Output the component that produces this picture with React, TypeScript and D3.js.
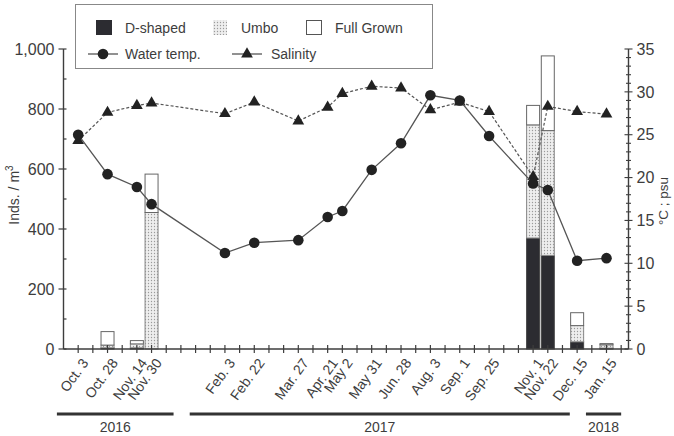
import React from 'react';
import * as d3 from 'd3';

// sampling dates and their slot on the x axis
const dates = ['Oct. 3', 'Oct. 28', 'Nov. 14', 'Nov. 30', 'Feb. 3', 'Feb. 22', 'Mar. 27', 'Apr. 21', 'May 2',
  'May 31', 'Jun. 28', 'Aug. 3', 'Sep. 1', 'Sep. 25', 'Nov. 1', 'Nov. 22', 'Dec. 15', 'Jan. 15'];
const slots = [1, 3, 5, 6, 11, 13, 16, 18, 19, 21, 23, 25, 27, 29, 32, 33, 35, 37];

// larvae density, inds / m3
const dShaped = [0, 4, 4, 0, 0, 0, 0, 0, 0, 0, 0, 0, 0, 0, 370, 312, 24, 3];
const umbo = [0, 9, 13, 455, 0, 0, 0, 0, 0, 0, 0, 0, 0, 0, 377, 416, 54, 11];
const fullGrown = [0, 45, 11, 128, 0, 0, 0, 0, 0, 0, 0, 0, 0, 0, 65, 249, 43, 4];

// environment
const waterTemp = [25.0, 20.4, 18.9, 16.9, 11.2, 12.4, 12.7, 15.4, 16.1, 20.9, 24.0, 29.6, 29.0, 24.85, 19.3, 18.55, 10.3, 10.6];
const salinity = [24.3, 27.6, 28.4, 28.7, 27.45, 28.8, 26.6, 28.2, 29.8, 30.65, 30.45, 27.9, 28.8, 27.7, 20.1, 28.3, 27.7, 27.4];

const leftTicks = [0, 200, 400, 600, 800, 1000];
const rightTicks = [0, 5, 10, 15, 20, 25, 30, 35];

// year brackets under the axis, in slot units
const years = ['2016', '2017', '2018'];
const yearFrom = [-0.45, 8.6, 35.6];
const yearTo = [7.5, 34.5, 38.0];

const W = 674;
const H = 436;
const ink = '#3d3d3d';
const font = '"Liberation Sans", Arial, sans-serif';

export default function App() {
  const x = d3.scaleLinear().domain([0, 38.5]).range([63.5, 628.5]);
  const yL = d3.scaleLinear().domain([0, 1000]).range([349, 49]);
  const yR = d3.scaleLinear().domain([0, 35]).range([349, 49]);

  const rows = dates.map((d, i) => ({ date: d, slot: slots[i], D: dShaped[i], U: umbo[i], F: fullGrown[i] }));
  const stacked = d3.stack<any>().keys(['D', 'U', 'F'])(rows);
  const fills: Record<string, string> = { D: '#2c2c31', U: 'url(#dots)', F: '#fff' };
  const strokes: Record<string, string> = { D: '#444', U: '#888', F: '#666' };
  const bw = 13;

  const tempLine = d3.line<number>().x((d, i) => x(slots[i])).y(d => yR(d));
  const triangle = d3.symbol().type(d3.symbolTriangle).size(60)();

  const x0 = x(0);
  const x1 = x(38.5);
  const y0 = yL(0);

  return (
    <svg width={W} height={H} style={{ position: 'fixed', left: 0, top: 0, background: '#fff' }} fontFamily={font}>
      <defs>
        <pattern id="dots" width="3" height="3" patternUnits="userSpaceOnUse">
          <rect width="3" height="3" fill="#eeeeee" />
          <circle cx="1.5" cy="1.5" r="0.65" fill="#9a9a9a" />
        </pattern>
      </defs>

      {/* bars */}
      {stacked.map(layer => (
        <g key={layer.key}>
          {layer.map((s, i) => {
            const h = yL(s[0]) - yL(s[1]);
            if (h <= 0) return null;
            return (
              <rect key={i} x={x(slots[i]) - bw / 2} y={yL(s[1])} width={bw} height={h}
                fill={fills[layer.key]} stroke={strokes[layer.key]} strokeWidth={1} />
            );
          })}
        </g>
      ))}

      {/* left axis */}
      <line x1={x0} x2={x0} y1={yL(1000)} y2={y0} stroke={ink} strokeWidth={1.4} />
      {d3.range(0, 1001, 100).map(v => (
        <line key={v} x1={v % 200 === 0 ? x0 - 5 : x0} x2={x0 + 3} y1={yL(v)} y2={yL(v)} stroke={ink} strokeWidth={1.2} />
      ))}
      {leftTicks.map(v => (
        <text key={v} x={x0 - 9} y={yL(v)} dy="0.36em" textAnchor="end" fontSize={16} fill={ink}>
          {d3.format(',')(v)}
        </text>
      ))}
      <text transform={`translate(19,${(yL(0) + yL(1000)) / 2 - 4}) rotate(-90)`} textAnchor="middle" fontSize={14} fill={ink}>
        Inds. / m<tspan dy="-6" fontSize={10}>3</tspan>
      </text>

      {/* right axis */}
      <line x1={x1} x2={x1} y1={yR(35)} y2={y0} stroke={ink} strokeWidth={1.4} />
      {d3.range(0, 36, 1).map(v => (
        <line key={v} x1={x1 - (v % 5 === 0 ? 4 : 2.5)} x2={x1 + (v % 5 === 0 ? 4 : 2.5)} y1={yR(v)} y2={yR(v)}
          stroke={ink} strokeWidth={1.1} />
      ))}
      {rightTicks.map(v => (
        <text key={v} x={x1 + 8} y={yR(v)} dy="0.36em" textAnchor="start" fontSize={16} fill={ink}>
          {v}
        </text>
      ))}
      <text transform={`translate(668,${(yR(0) + yR(35)) / 2 + 2}) rotate(-90)`} textAnchor="middle" fontSize={13.5} fill={ink}>
        °C ; psu
      </text>

      {/* bottom axis */}
      <line x1={x0} x2={x1} y1={y0} y2={y0} stroke={ink} strokeWidth={1.6} />
      {d3.range(1, 39).map(k => (
        <line key={k} x1={x(k)} x2={x(k)} y1={y0 - 4} y2={y0 + 4} stroke={ink} strokeWidth={1.2} />
      ))}
      {dates.map((d, i) => (
        <text key={d} transform={`translate(${x(slots[i]) + 7},${y0 + 11}) rotate(-54)`} textAnchor="end" dy="0.35em"
          fontSize={14} fill={ink}>
          {d}
        </text>
      ))}

      {/* year brackets */}
      {years.map((yr, i) => (
        <g key={yr}>
          <line x1={x(yearFrom[i])} x2={x(yearTo[i])} y1={414} y2={414} stroke="#333" strokeWidth={3} />
          <text x={(x(yearFrom[i]) + x(yearTo[i])) / 2} y={432} textAnchor="middle" fontSize={14} fill={ink}>{yr}</text>
        </g>
      ))}

      {/* salinity */}
      <path d={tempLine(salinity) || ''} fill="none" stroke="#555" strokeWidth={1.2} strokeDasharray="3,2" />
      {salinity.map((v, i) => (
        <path key={i} d={triangle || ''} transform={`translate(${x(slots[i])},${yR(v)})`} fill="#222" />
      ))}

      {/* water temperature */}
      <path d={tempLine(waterTemp) || ''} fill="none" stroke="#555" strokeWidth={1.3} />
      {waterTemp.map((v, i) => (
        <circle key={i} cx={x(slots[i])} cy={yR(v)} r={5.3} fill="#222" />
      ))}

      {/* legend */}
      <rect x={75.5} y={4.5} width={357} height={64} fill="#fff" stroke="#888" strokeWidth={1} />
      <rect x={96} y={20} width={16} height={15} fill="#2c2c31" />
      <text x={125} y={33} fontSize={14} fill={ink}>D-shaped</text>
      <rect x={213} y={20} width={14} height={15} fill="url(#dots)" />
      <text x={241} y={33} fontSize={14} fill={ink}>Umbo</text>
      <rect x={306.5} y={20.5} width={15} height={14} fill="#fff" stroke="#555" />
      <text x={335} y={33} fontSize={14} fill={ink}>Full Grown</text>
      <line x1={88} x2={118} y1={54} y2={54} stroke="#555" strokeWidth={1.3} />
      <circle cx={103} cy={54} r={5.3} fill="#222" />
      <text x={125} y={59} fontSize={14} fill={ink}>Water temp.</text>
      <line x1={232} x2={262} y1={54} y2={54} stroke="#555" strokeWidth={1.3} />
      <path d={triangle || ''} transform="translate(247,54)" fill="#222" />
      <text x={271} y={59} fontSize={14} fill={ink}>Salinity</text>
    </svg>
  );
}
